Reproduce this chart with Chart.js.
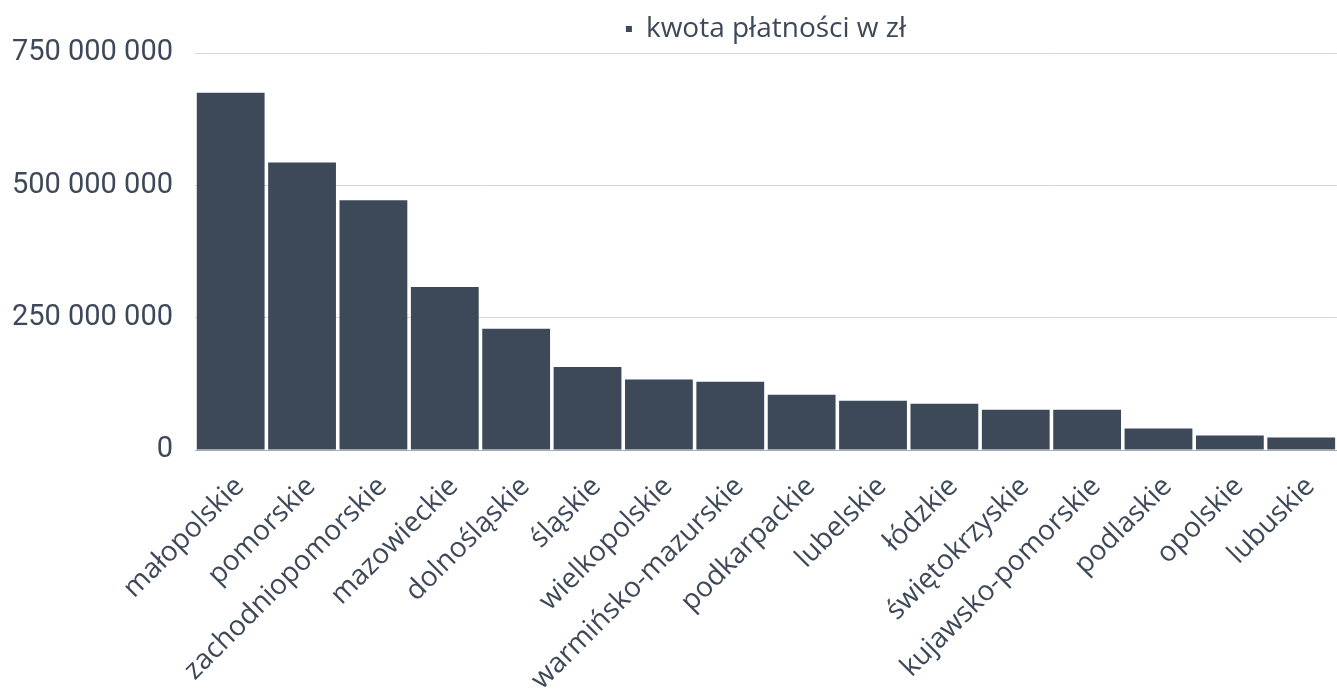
<!DOCTYPE html>
<html lang="pl">
<head>
<meta charset="utf-8">
<title>Kwota płatności według województw</title>
<script src="https://cdn.jsdelivr.net/npm/chart.js@4"></script>
<style>
  html, body { margin: 0; padding: 0; background: #fff; }
</style>
</head>
<body>
<canvas id="canvas1" width="1337" height="691"></canvas>
<script>
const wojewodztwa = [
  "małopolskie", "pomorskie", "zachodniopomorskie", "mazowieckie",
  "dolnośląskie", "śląskie", "wielkopolskie", "warmińsko-mazurskie",
  "podkarpackie", "lubelskie", "łódzkie", "świętokrzyskie",
  "kujawsko-pomorskie", "podlaskie", "opolskie", "lubuskie"
];
const kwoty = [
  675000000, 543000000, 472000000, 308000000,
  229000000, 157000000, 133000000, 129000000,
  104500000, 93000000, 87500000, 76000000,
  76000000, 40500000, 27300000, 23500000
];
const podzialkiY = [0, 250000000, 500000000, 750000000];
const nazwaSerii = "kwota płatności w zł";

const kolorTekstu = "#3d4858";
const kolorSlupka = "#3d4858";

// 750000000 -> "750 000 000"
const formatuj = (v) => String(v).replace(/\B(?=(\d{3})+(?!\d))/g, " ");

const ctx = document.getElementById("canvas1").getContext("2d");

new Chart(ctx, {
  type: "bar",
  data: {
    labels: wojewodztwa,
    datasets: [
      {
        label: nazwaSerii,
        data: kwoty,
        backgroundColor: kolorSlupka,
        borderWidth: 0,
        barPercentage: 0.95,
        categoryPercentage: 1,
      },
    ],
  },
  options: {
    responsive: false,
    animation: false,
    devicePixelRatio: 1,
    layout: { padding: { top: 7, right: 0, bottom: 0, left: 0 } },
    plugins: {
      legend: {
        position: "top",
        fullSize: false,
        labels: {
          color: kolorTekstu,
          boxWidth: 6,
          boxHeight: 6,
          padding: 8,
          font: { family: "'Open Sans', sans-serif", size: 28 },
        },
      },
      tooltip: { enabled: true },
    },
    scales: {
      x: {
        grid: { display: false },
        border: { color: "#a8a8b0", width: 1 },
        ticks: {
          color: kolorTekstu,
          autoSkip: false,
          minRotation: 45,
          maxRotation: 45,
          padding: 12,
          labelOffset: 9,
          font: { family: "'Open Sans', sans-serif", size: 28 },
        },
        afterFit: (scale) => {
          scale.height = 241;
        },
      },
      y: {
        min: 0,
        max: 750000000,
        border: { display: false },
        grid: { color: "#d6d6de", drawTicks: false },
        afterBuildTicks: (scale) => {
          scale.ticks = podzialkiY.map((v) => ({ value: v }));
        },
        ticks: {
          color: kolorTekstu,
          padding: 22,
          font: { family: "Roboto, sans-serif", size: 29 },
          callback: (value) => formatuj(value),
        },
        afterFit: (scale) => {
          scale.width = 195;
        },
      },
    },
  },
});
</script>
</body>
</html>
